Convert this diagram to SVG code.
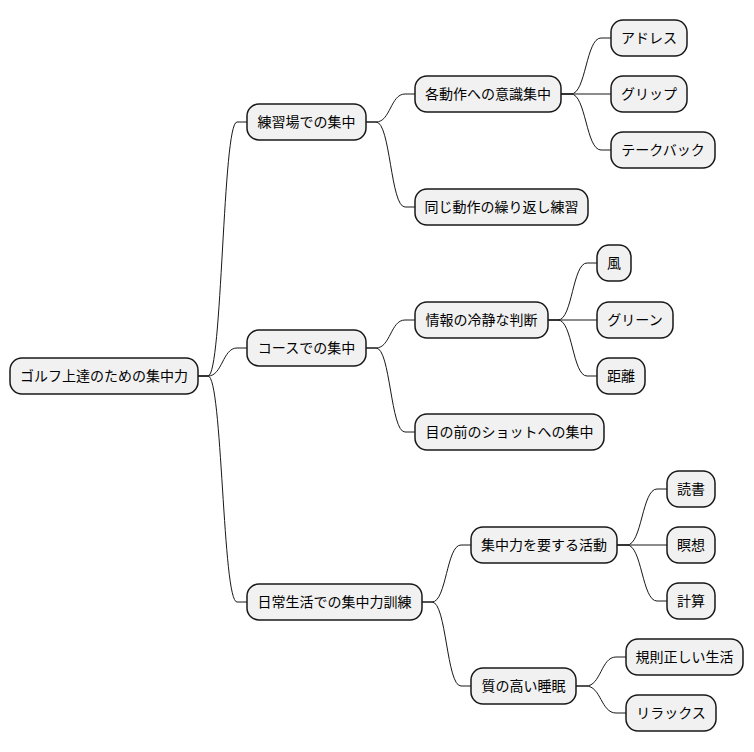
<svg xmlns="http://www.w3.org/2000/svg" width="754" height="752" viewBox="0 0 754 752">
<style>
.n rect{fill:#F1F1F1;stroke:#181818;stroke-width:1.5}
.n text{font-family:"Noto Sans CJK JP","Noto Sans",sans-serif;font-size:14px;fill:#000;text-anchor:middle}
#edges path{fill:none;stroke:#181818;stroke-width:1}
</style>
<rect width="754" height="752" fill="#FFFFFF"/>
<g id="edges">
<path d="M198,376 L208,376 C222.5,376 222.5,122 237,122 L247,122"/>
<path d="M198,376 L208,376 C222.5,376 222.5,348 237,348 L247,348"/>
<path d="M198,376 L208,376 C222.5,376 222.5,602 237,602 L247,602"/>
<path d="M366,122 L376,122 C390.5,122 390.5,94 405,94 L415,94"/>
<path d="M366,122 L376,122 C390.5,122 390.5,207 405,207 L415,207"/>
<path d="M561,94 L571,94 C586,94 586,38 601,38 L611,38"/>
<path d="M561,94 L611,94"/>
<path d="M561,94 L571,94 C586,94 586,150 601,150 L611,150"/>
<path d="M366,348 L376,348 C390.5,348 390.5,320 405,320 L415,320"/>
<path d="M366,348 L376,348 C390.5,348 390.5,432 405,432 L415,432"/>
<path d="M548,320 L558,320 C572.5,320 572.5,263 587,263 L597,263"/>
<path d="M548,320 L597,320"/>
<path d="M548,320 L558,320 C572.5,320 572.5,376 587,376 L597,376"/>
<path d="M422,602 L432,602 C446.5,602 446.5,545 461,545 L471,545"/>
<path d="M422,602 L432,602 C446.5,602 446.5,686 461,686 L471,686"/>
<path d="M617,545 L627,545 C642,545 642,489 657,489 L667,489"/>
<path d="M617,545 L667,545"/>
<path d="M617,545 L627,545 C642,545 642,601 657,601 L667,601"/>
<path d="M576,686 L586,686 C601,686 601,657 616,657 L626,657"/>
<path d="M576,686 L586,686 C601,686 601,713 616,713 L626,713"/>
</g>
<g id="root" class="n"><rect x="10" y="358" width="188" height="36" rx="12"/><text x="104" y="381">ゴルフ上達のための集中力</text></g>
<g id="n1" class="n"><rect x="247" y="104" width="119" height="36" rx="12"/><text x="306.5" y="127">練習場での集中</text></g>
<g id="n2" class="n"><rect x="247" y="330" width="119" height="36" rx="12"/><text x="306.5" y="353">コースでの集中</text></g>
<g id="n3" class="n"><rect x="247" y="584" width="175" height="36" rx="12"/><text x="334.5" y="607">日常生活での集中力訓練</text></g>
<g id="n11" class="n"><rect x="415" y="76" width="146" height="36" rx="12"/><text x="488" y="99">各動作への意識集中</text></g>
<g id="n12" class="n"><rect x="415" y="189" width="173" height="36" rx="12"/><text x="501.5" y="212">同じ動作の繰り返し練習</text></g>
<g id="n21" class="n"><rect x="415" y="302" width="133" height="36" rx="12"/><text x="481.5" y="325">情報の冷静な判断</text></g>
<g id="n22" class="n"><rect x="415" y="414" width="189" height="36" rx="12"/><text x="509.5" y="437">目の前のショットへの集中</text></g>
<g id="n31" class="n"><rect x="471" y="527" width="146" height="36" rx="12"/><text x="544" y="550">集中力を要する活動</text></g>
<g id="n32" class="n"><rect x="471" y="668" width="105" height="36" rx="12"/><text x="523.5" y="691">質の高い睡眠</text></g>
<g id="n111" class="n"><rect x="611" y="20" width="76" height="36" rx="12"/><text x="649" y="43">アドレス</text></g>
<g id="n112" class="n"><rect x="611" y="76" width="76" height="36" rx="12"/><text x="649" y="99">グリップ</text></g>
<g id="n113" class="n"><rect x="611" y="132" width="104" height="36" rx="12"/><text x="663" y="155">テークバック</text></g>
<g id="n211" class="n"><rect x="597" y="245" width="34" height="36" rx="12"/><text x="614" y="268">風</text></g>
<g id="n212" class="n"><rect x="597" y="302" width="76" height="36" rx="12"/><text x="635" y="325">グリーン</text></g>
<g id="n213" class="n"><rect x="597" y="358" width="48" height="36" rx="12"/><text x="621" y="381">距離</text></g>
<g id="n311" class="n"><rect x="667" y="471" width="48" height="36" rx="12"/><text x="691" y="494">読書</text></g>
<g id="n312" class="n"><rect x="667" y="527" width="48" height="36" rx="12"/><text x="691" y="550">瞑想</text></g>
<g id="n313" class="n"><rect x="667" y="583" width="48" height="36" rx="12"/><text x="691" y="606">計算</text></g>
<g id="n321" class="n"><rect x="626" y="639" width="117" height="36" rx="12"/><text x="684.5" y="662">規則正しい生活</text></g>
<g id="n322" class="n"><rect x="626" y="695" width="90" height="36" rx="12"/><text x="671" y="718">リラックス</text></g>
</svg>
